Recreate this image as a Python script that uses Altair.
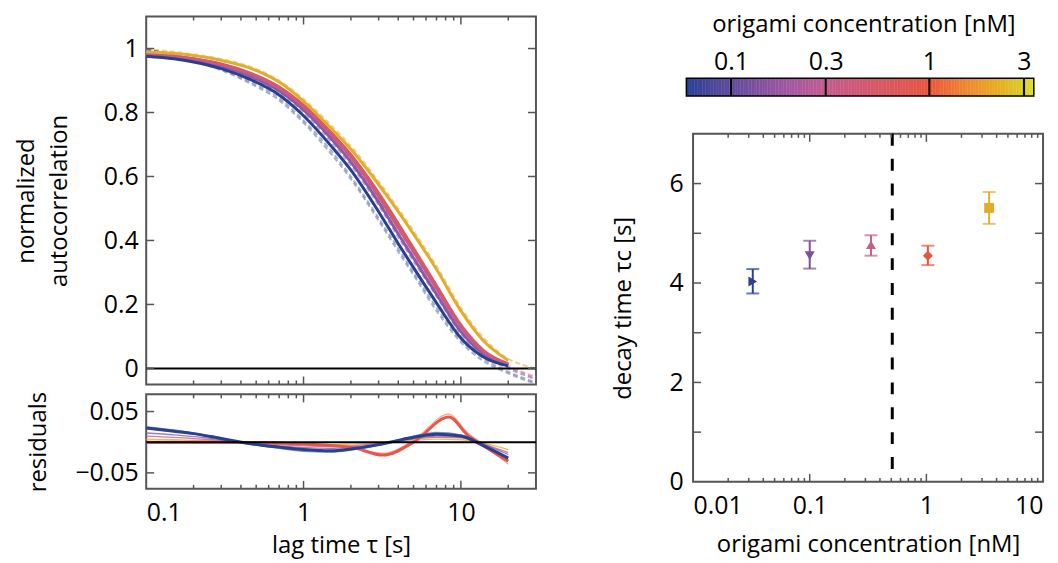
import altair as alt
import pandas as pd
import numpy as np

FONT = "Open Sans"
FRAME = "#555555"

# ---------------- autocorrelation curves (left, top) ----------------
tau_fit = [0.1, 0.15, 0.2, 0.3, 0.45, 0.7, 1, 1.5, 2, 3, 4, 5, 7, 10, 14, 20]
fit_blue = [0.976, 0.968, 0.958, 0.937, 0.905, 0.855, 0.79, 0.695, 0.62, 0.49, 0.39, 0.315, 0.205, 0.095, 0.035, 0.008]
fit_purple = [0.98, 0.973, 0.964, 0.945, 0.915, 0.868, 0.808, 0.718, 0.645, 0.52, 0.42, 0.345, 0.232, 0.115, 0.045, 0.011]
fit_pink = [0.982, 0.975, 0.967, 0.95, 0.922, 0.876, 0.818, 0.73, 0.66, 0.538, 0.44, 0.365, 0.25, 0.13, 0.052, 0.013]
fit_red = [0.983, 0.976, 0.968, 0.952, 0.925, 0.88, 0.823, 0.737, 0.668, 0.548, 0.452, 0.375, 0.258, 0.135, 0.055, 0.014]
fit_yellow = [0.99, 0.985, 0.978, 0.963, 0.94, 0.895, 0.835, 0.75, 0.685, 0.575, 0.49, 0.42, 0.31, 0.18, 0.085, 0.025]

tau_data = [0.1, 0.15, 0.2, 0.3, 0.45, 0.7, 1, 1.5, 2, 3, 4, 5, 7, 10, 14, 20, 25, 30]
data_blue_a = [1.0, 0.978, 0.962, 0.935, 0.898, 0.845, 0.775, 0.68, 0.6, 0.47, 0.375, 0.3, 0.19, 0.09, 0.03, -0.01, -0.03, -0.045]
data_blue_b = [0.995, 0.975, 0.96, 0.932, 0.893, 0.838, 0.768, 0.67, 0.592, 0.462, 0.365, 0.292, 0.18, 0.082, 0.022, -0.015, -0.035, -0.048]
data_purple = [0.998, 0.98, 0.966, 0.944, 0.912, 0.862, 0.8, 0.708, 0.635, 0.51, 0.41, 0.335, 0.225, 0.108, 0.04, 0.0, -0.02, -0.035]
data_pink = [0.997, 0.98, 0.968, 0.948, 0.918, 0.872, 0.812, 0.722, 0.652, 0.53, 0.432, 0.358, 0.243, 0.124, 0.048, 0.005, -0.015, -0.03]
data_red = [0.997, 0.982, 0.97, 0.952, 0.925, 0.88, 0.822, 0.738, 0.665, 0.55, 0.455, 0.38, 0.262, 0.14, 0.058, 0.01, -0.012, -0.025]
data_yellow = [0.999, 0.99, 0.982, 0.967, 0.945, 0.9, 0.842, 0.76, 0.695, 0.585, 0.5, 0.43, 0.32, 0.19, 0.095, 0.03, 0.01, 0.0]

# ---------------- residuals (left, bottom) ----------------
res_blue_a = [0.023, 0.018, 0.014, 0.006, -0.002, -0.008, -0.012, -0.014, -0.011, -0.004, 0.003, 0.008, 0.013, 0.01, -0.006, -0.026]
res_blue_b = [0.025, 0.02, 0.015, 0.007, -0.003, -0.01, -0.015, -0.016, -0.013, -0.005, 0.004, 0.01, 0.016, 0.012, -0.005, -0.03]
res_purple = [0.015, 0.012, 0.009, 0.004, -0.001, -0.006, -0.009, -0.01, -0.008, -0.003, 0.002, 0.006, 0.01, 0.008, -0.004, -0.02]
res_pink = [0.01, 0.008, 0.006, 0.003, 0.0, -0.004, -0.006, -0.007, -0.006, -0.002, 0.002, 0.005, 0.008, 0.007, -0.003, -0.017]
res_yellow = [0.005, 0.004, 0.003, 0.002, 0.0, -0.002, -0.003, -0.004, -0.003, -0.001, 0.001, 0.003, 0.005, 0.004, -0.002, -0.012]
tau_res_red = [0.1, 0.3, 1, 2, 3.2, 5, 8.4, 11, 14, 20]
res_red_a = [0.0, 0.0, -0.003, -0.008, -0.021, 0.0, 0.041, 0.012, -0.006, -0.031]
res_red_b = [0.0, 0.001, -0.002, -0.01, -0.018, 0.003, 0.046, 0.016, -0.004, -0.036]

# ---------------- decay time vs concentration (right) ----------------
conc = [0.0325, 0.1, 0.335, 1.03, 3.45]
tau_c = [4.03, 4.55, 4.77, 4.55, 5.51]
tau_lo = [3.79, 4.29, 4.55, 4.36, 5.19]
tau_hi = [4.28, 4.85, 4.96, 4.75, 5.83]
shapes = ["triangle-right", "triangle-down", "triangle-up", "diamond", "square"]
pt_colors = ["#2a4194", "#7b509f", "#c75e87", "#e8543e", "#e2ae2a"]
threshold = [0.51]

# ---------------- colorbar ----------------
cb_stops = [0.0595, 0.1, 0.2, 0.3, 0.6, 1.0, 1.6, 3.0, 3.363]
cb_colors = ["#233f96", "#5e4a9c", "#a457a0", "#c25b8e", "#d6585f", "#e8553d", "#ee8a30", "#d8cd2a", "#dde22a"]
cb_ticks = [0.1, 0.3, 1, 3]

C_BLUE, C_BLUE_D, C_PURPLE, C_PINK, C_RED, C_RED_D, C_YEL = (
    "#27408f", "#5d6fa6", "#8a5aa6", "#c85a8a", "#e8564a", "#eea08c", "#e2ad2b")

LBL, TTL = 25, 24

# ---------- build tables ----------
def long(taus, vals, name, col):
    return pd.DataFrame({"tau": taus, "v": vals, "series": name, "col": col})

df_fit = pd.concat([
    long(tau_fit, fit_purple, "fp", C_PURPLE),
    long(tau_fit, fit_red, "fr", C_RED),
    long(tau_fit, fit_pink, "fk", C_PINK),
    long(tau_fit, fit_yellow, "fy", C_YEL),
    long(tau_fit, fit_blue, "fb", C_BLUE),
], ignore_index=True)
df_dat = pd.concat([
    long(tau_data, data_yellow, "dy", C_YEL),
    long(tau_data, data_red, "dr", C_RED_D),
    long(tau_data, data_pink, "dk", C_PINK),
    long(tau_data, data_purple, "dp", C_PURPLE),
    long(tau_data, data_blue_a, "db1", C_BLUE_D),
    long(tau_data, data_blue_b, "db2", C_BLUE_D),
], ignore_index=True)
df_res_thin = pd.concat([
    long(tau_fit, res_yellow, "ry", C_YEL),
    long(tau_fit, res_pink, "rk", C_PINK),
    long(tau_fit, res_purple, "rp", C_PURPLE),
    long(tau_res_red, res_red_b, "rr2", C_RED_D),
    long(tau_fit, res_blue_b, "rb2", C_BLUE_D),
], ignore_index=True)
df_res_thick = pd.concat([
    long(tau_res_red, res_red_a, "rr1", C_RED),
    long(tau_fit, res_blue_a, "rb1", C_BLUE),
], ignore_index=True)

# ---------- helpers for inward ticks ----------
def inward_ticks(xscale, yscale, xaxis, yaxis, W, H, xmaj=(), xmin=(), yvals=()):
    layers = []
    for vals, L in ((list(xmaj), 8), (list(xmin), 4)):
        if not vals:
            continue
        d = pd.DataFrame({"t": vals})
        for a, b in ((0, L), (H, H - L)):
            layers.append(alt.Chart(d).mark_rule(color=FRAME, strokeWidth=1.5).encode(
                x=alt.X("t:Q", scale=xscale, axis=xaxis), y=alt.value(a), y2=alt.value(b)))
    if yvals:
        d = pd.DataFrame({"t": list(yvals)})
        for a, b in ((0, 8), (W, W - 8)):
            layers.append(alt.Chart(d).mark_rule(color=FRAME, strokeWidth=1.5).encode(
                y=alt.Y("t:Q", scale=yscale, axis=yaxis), x=alt.value(a), x2=alt.value(b)))
    return layers

LW, TH, RH = 392, 370, 95
minor_left = [0.2, 0.3, 0.4, 0.5, 0.6, 0.7, 0.8, 0.9, 2, 3, 4, 5, 6, 7, 8, 9, 20]
major_left = [1, 10]

xs_left = alt.Scale(type="log", domain=[0.1, 30], nice=False)
ys_top = alt.Scale(domain=[-0.05, 1.1], nice=False, zero=False)
ys_res = alt.Scale(domain=[-0.076, 0.078], nice=False, zero=False)

top_axis_x = None
top_axis_y = alt.Axis(values=[0, 0.2, 0.4, 0.6, 0.8, 1], format="~g",
                      title=["normalized", "autocorrelation"], labelPadding=8,
                      titlePadding=32, titleLineHeight=33)

top_data = alt.Chart(df_dat).mark_line(strokeWidth=2, strokeDash=[5, 3], opacity=0.55,
                                        interpolate="monotone").encode(
    x=alt.X("tau:Q", scale=xs_left, axis=top_axis_x),
    y=alt.Y("v:Q", scale=ys_top, axis=top_axis_y),
    stroke=alt.Stroke("col:N", scale=None),
    detail="series:N",
)
top_fit = alt.Chart(df_fit).mark_line(strokeWidth=3, interpolate="monotone").encode(
    x=alt.X("tau:Q", scale=xs_left, axis=top_axis_x),
    y=alt.Y("v:Q", scale=ys_top, axis=top_axis_y),
    stroke=alt.Stroke("col:N", scale=None),
    detail="series:N",
)
zero_top = alt.Chart(pd.DataFrame({"z": [0]})).mark_rule(color="black", strokeWidth=2).encode(
    y=alt.Y("z:Q", scale=ys_top, axis=top_axis_y))

top = alt.layer(top_data, top_fit, zero_top,
                *inward_ticks(xs_left, ys_top, top_axis_x, top_axis_y, LW, TH, major_left, minor_left,
                              [0, 0.2, 0.4, 0.6, 0.8, 1])
                ).properties(width=LW, height=TH)

res_axis_x = alt.Axis(values=[0.1, 1, 10], format="~g", title="lag time τ [s]",
                      labelPadding=12, titlePadding=8)
res_axis_y = alt.Axis(values=[-0.05, 0.05], format="~g", title="residuals",
                      labelPadding=8, titlePadding=25)

res_thin = alt.Chart(df_res_thin).mark_line(strokeWidth=1.3, opacity=0.8, interpolate="monotone").encode(
    x=alt.X("tau:Q", scale=xs_left, axis=res_axis_x),
    y=alt.Y("v:Q", scale=ys_res, axis=res_axis_y),
    stroke=alt.Stroke("col:N", scale=None),
    detail="series:N",
)
res_thick = alt.Chart(df_res_thick).mark_line(strokeWidth=3, interpolate="monotone").encode(
    x=alt.X("tau:Q", scale=xs_left, axis=res_axis_x),
    y=alt.Y("v:Q", scale=ys_res, axis=res_axis_y),
    stroke=alt.Stroke("col:N", scale=None),
    detail="series:N",
)
zero_res = alt.Chart(pd.DataFrame({"z": [0]})).mark_rule(color="black", strokeWidth=2).encode(
    y=alt.Y("z:Q", scale=ys_res, axis=res_axis_y))

resid = alt.layer(res_thin, res_thick, zero_res,
                  *inward_ticks(xs_left, ys_res, res_axis_x, res_axis_y, LW, RH, major_left, minor_left,
                                [-0.05, 0.05])
                  ).properties(width=LW, height=RH)

# ---------- right scatter ----------
SW, SH = 352, 350
xs_r = alt.Scale(type="log", domain=[0.01, 10], nice=False)
ys_r = alt.Scale(domain=[0, 7], nice=False, zero=False)
df_pts = pd.DataFrame({"conc": conc, "tc": tau_c, "lo": tau_lo, "hi": tau_hi,
                       "shape": shapes, "col": pt_colors})

r_axis_x = alt.Axis(values=[0.01, 0.1, 1, 10], format="~g", title="origami concentration [nM]",
                    labelPadding=12, titlePadding=14)
r_axis_y = alt.Axis(values=[0, 2, 4, 6], format="~g", title="decay time τc [s]",
                    labelPadding=10, titlePadding=34)

err = alt.Chart(df_pts).mark_rule(strokeWidth=2).encode(
    x=alt.X("conc:Q", scale=xs_r, axis=r_axis_x),
    y=alt.Y("lo:Q", scale=ys_r, axis=r_axis_y),
    y2="hi:Q",
    stroke=alt.Stroke("col:N", scale=None),
)
cap_lo = alt.Chart(df_pts).mark_tick(orient="horizontal", size=13, thickness=2).encode(
    x=alt.X("conc:Q", scale=xs_r, axis=r_axis_x), y=alt.Y("lo:Q", scale=ys_r, axis=r_axis_y),
    fill=alt.Fill("col:N", scale=None))
cap_hi = alt.Chart(df_pts).mark_tick(orient="horizontal", size=13, thickness=2).encode(
    x=alt.X("conc:Q", scale=xs_r, axis=r_axis_x), y=alt.Y("hi:Q", scale=ys_r, axis=r_axis_y),
    fill=alt.Fill("col:N", scale=None))
pts = alt.Chart(df_pts).mark_point(filled=True, size=100, opacity=1).encode(
    x=alt.X("conc:Q", scale=xs_r, axis=r_axis_x), y=alt.Y("tc:Q", scale=ys_r, axis=r_axis_y),
    shape=alt.Shape("shape:N", scale=None),
    fill=alt.Fill("col:N", scale=None))
dash = alt.Chart(pd.DataFrame({"c": threshold})).mark_rule(color="black", strokeWidth=3,
                                                           strokeDash=[12, 13]).encode(
    x=alt.X("c:Q", scale=xs_r, axis=r_axis_x))

minor_r = [0.02, 0.03, 0.04, 0.05, 0.06, 0.07, 0.08, 0.09, 0.2, 0.3, 0.4, 0.5, 0.6, 0.7, 0.8, 0.9,
           2, 3, 4, 5, 6, 7, 8, 9]
scatter = alt.layer(dash, err, cap_lo, cap_hi, pts,
                    *inward_ticks(xs_r, ys_r, r_axis_x, r_axis_y, SW, SH, [0.1, 1], minor_r,
                                  [1, 2, 3, 4, 5, 6])
                    ).properties(width=SW, height=SH)

# ---------- colorbar ----------
CBW, CBH = 342.7, 18
edges = np.geomspace(cb_stops[0], cb_stops[-1], 220)
df_cb = pd.DataFrame({"c0": edges[:-1], "c1": edges[1:] * 1.004, "cm": np.sqrt(edges[:-1] * edges[1:])})
xs_cb = alt.Scale(type="log", domain=[0.0643, 3.363], nice=False)
cb_axis = alt.Axis(orient="top", values=cb_ticks, format="~g", title="origami concentration [nM]",
                   labelPadding=4, titlePadding=13)
cb_rects = alt.Chart(df_cb).mark_rect(strokeWidth=0).encode(
    x=alt.X("c0:Q", scale=xs_cb, axis=cb_axis),
    x2="c1:Q",
    fill=alt.Fill("cm:Q", scale=alt.Scale(type="log", domain=cb_stops, range=cb_colors), legend=None),
)
cb_lines = alt.Chart(pd.DataFrame({"t": cb_ticks})).mark_rule(color="black", strokeWidth=2).encode(
    x=alt.X("t:Q", scale=xs_cb, axis=cb_axis))
cb_box = alt.Chart(pd.DataFrame({"a": [cb_stops[0]], "b": [cb_stops[-1]]})).mark_rect(
    fillOpacity=0, stroke="black", strokeWidth=1.5).encode(
    x=alt.X("a:Q", scale=xs_cb, axis=cb_axis), x2="b:Q")
colorbar = alt.layer(cb_rects, cb_lines, cb_box).properties(
    width=CBW, height=CBH, view=alt.ViewBackground(stroke="transparent"))

# invisible spacer so that the right column's top lines up with the left plot's top
spacer = alt.Chart(pd.DataFrame({"s": [0]})).mark_point(size=1, opacity=0).encode(
    x=alt.X("s:Q", axis=None), y=alt.Y("s:Q", axis=None)
).properties(width=1, height=24, view=alt.ViewBackground(stroke="transparent"))

left = alt.vconcat(top, resid, spacing=0)
right = alt.vconcat(spacer, colorbar, scatter, spacing=38, bounds="flush").resolve_scale(
    fill="independent", stroke="independent")

chart = alt.hconcat(left, right, spacing=69).resolve_scale(
    fill="independent", stroke="independent", color="independent"
).properties(
    padding={"left": 5, "top": 2, "right": 5, "bottom": 0}, background="white"
).configure_view(stroke=FRAME, strokeWidth=2).configure_axis(
    labelFont=FONT, titleFont=FONT, labelFontSize=LBL, titleFontSize=TTL,
    titleFontWeight="normal", labelColor="black", titleColor="black",
    grid=False, domain=False, ticks=False,
)

chart.save("out.html", embed_options={"renderer": "svg", "actions": False})
